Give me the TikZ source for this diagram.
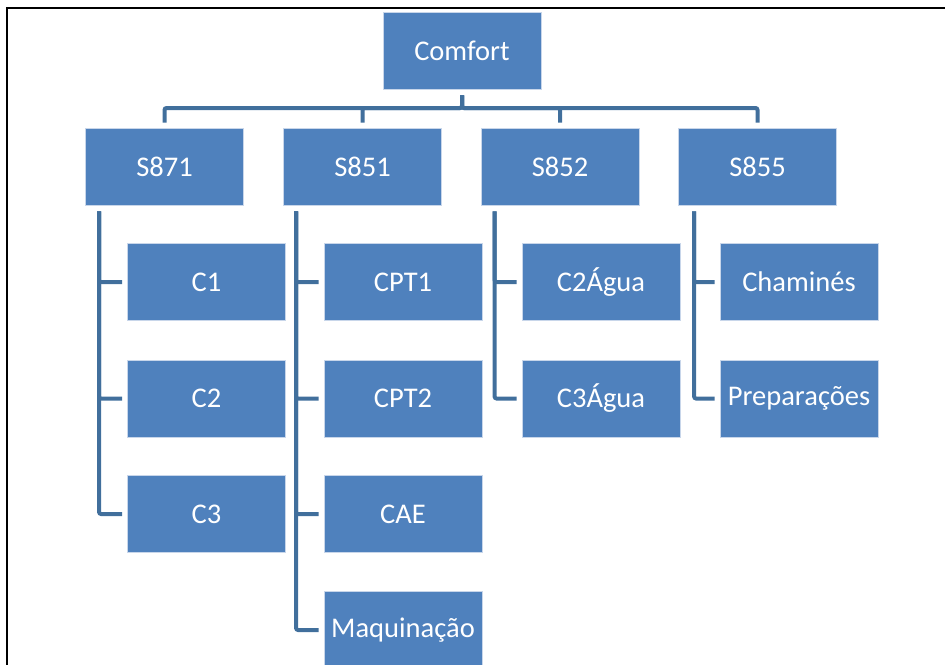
\documentclass[tikz,border=0pt]{standalone}
\usepackage{fontspec}
\setmainfont{Carlito}
\definecolor{boxblue}{RGB}{79,129,189}
\definecolor{lineblue}{RGB}{65,111,156}
\definecolor{boxedge}{RGB}{200,214,234}
\begin{document}
\begin{tikzpicture}[x=1pt,y=-1pt,
  orgbox/.style={rectangle, fill=boxblue, draw=boxedge, line width=0.8pt,
    minimum width=158pt, minimum height=77pt, inner sep=0pt,
    text=white, font=\fontsize{28.5}{30}\selectfont},
  conn/.style={draw=lineblue, line width=4pt, rounded corners=2pt},
  bus/.style={conn, shorten <=6pt, shorten >=5pt},
  side/.style={conn, shorten <=6pt, shorten >=5pt}]
\useasboundingbox (0,0) rectangle (945,664);
\clip (0,0) rectangle (945,664);
% frame
\draw[line width=2.5pt] (7,670) -- (7,8) -- (950,8);
% nodes
\node[orgbox] (comfort) at (462,50.5) {Comfort};
\node[orgbox] (s871) at (164.5,166.5) {S871};
\node[orgbox] (s851) at (362.5,166.5) {S851};
\node[orgbox] (s852) at (560,166.5) {S852};
\node[orgbox] (s855) at (757.5,166.5) {S855};
\node[orgbox] (c1) at (206.5,282) {C1};
\node[orgbox] (c2) at (206.5,398.5) {C2};
\node[orgbox] (c3) at (206.5,514) {C3};
\node[orgbox] (cpt1) at (403,282) {CPT1};
\node[orgbox] (cpt2) at (403,398.5) {CPT2};
\node[orgbox] (cae) at (403,514) {CAE};
\node[orgbox] (maq) at (403,630) {Maquinação};
\node[orgbox] (c2agua) at (601,282) {C2Água};
\node[orgbox] (c3agua) at (601,398.5) {C3Água};
\node[orgbox] (cham) at (799,282) {Chaminés};
\node[orgbox] (prep) at (799,398.5) {Preparações};
% bus
\coordinate (busy) at (0,108);
\foreach \s in {s871,s851,s852,s855}{
  \draw[bus] (comfort.south) |- (busy -| \s.north) -- (\s.north);
}
% side connectors
\coordinate (v871) at ([xshift=14pt]s871.south west);
\coordinate (v851) at ([xshift=13pt]s851.south west);
\coordinate (v852) at ([xshift=14pt]s852.south west);
\coordinate (v855) at ([xshift=16pt]s855.south west);
\foreach \p/\c in {v871/c1,v871/c2,v871/c3,v851/cpt1,v851/cpt2,v851/cae,v851/maq,v852/c2agua,v852/c3agua,v855/cham,v855/prep}{
  \draw[side] (\p) |- (\c.west);
}
\end{tikzpicture}
\end{document}
